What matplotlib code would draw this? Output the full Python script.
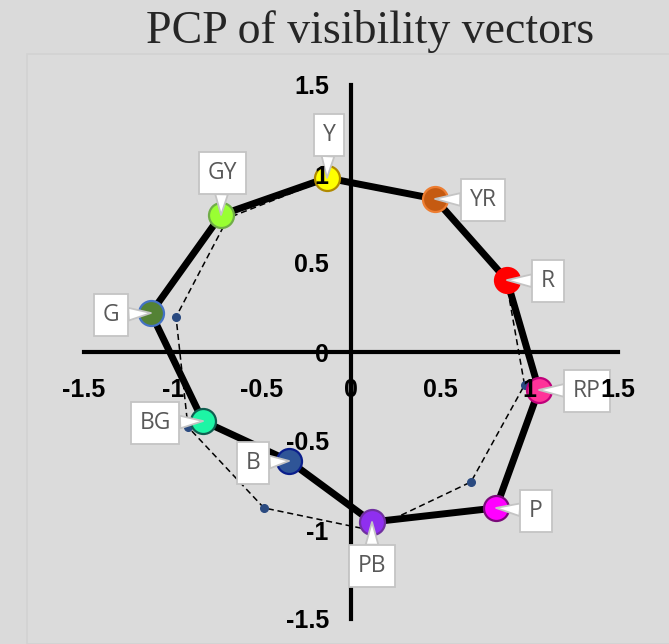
import matplotlib
matplotlib.use("Agg")
import matplotlib.pyplot as plt
from matplotlib.patches import Rectangle

# ---- data ----
hues = ['Y', 'YR', 'R', 'RP', 'P', 'PB', 'B', 'BG', 'G', 'GY']
pcp_x = [-0.135, 0.472, 0.876, 1.056, 0.815, 0.118, -0.348, -0.831, -1.124, -0.730]
pcp_y = [0.978, 0.860, 0.404, -0.213, -0.876, -0.955, -0.612, -0.388, 0.219, 0.770]
ref_x = [-0.146, 0.461, 0.872, 0.975, 0.674, 0.107, -0.489, -0.916, -0.983, -0.691]
ref_y = [0.966, 0.854, 0.398, -0.185, -0.730, -1.000, -0.876, -0.421, 0.197, 0.753]
tick_vals = [-1.5, -1, -0.5, 0, 0.5, 1, 1.5]
tick_labels = ['-1.5', '-1', '-0.5', '0', '0.5', '1', '1.5']

# ---- styles ----
face_colors = ['#FFFF00', '#C55A11', '#FF0000', '#FF3399', '#FF00FF',
               '#8F2FEF', '#2F5597', '#1DF5A5', '#548235', '#99FF33']
edge_colors = ['#B08A00', '#ED7D31', '#FF0000', '#C0007A', '#7A0A7A',
               '#7030A0', '#0A1E8C', '#0F5F50', '#4472C4', '#70AD47']
label_offsets = [(2, 43), (48, -1), (41, -1), (48, -1), (40, -3),
                 (0, -44), (-36, -2), (-48, -2), (-40, -2), (1, 42)]

W, H = 669, 644
fig = plt.figure(figsize=(W / 100, H / 100), dpi=100, facecolor='#DADADA')
# plot-area frame
fig.patches.append(Rectangle((27 / W, 0), 1, (H - 54) / H, transform=fig.transFigure,
                             facecolor='#DBDBDB', edgecolor='#D2D2D2', lw=1.2, zorder=-10))

ax = fig.add_axes([0, 0, 1, 1])
ax.set_zorder(1)
ax.set_facecolor('none')
s = 178.0
ax.set_xlim(-351 / s, (W - 351) / s)
ax.set_ylim(-(H - 352) / s, 352 / s)

for side in ['top', 'right']:
    ax.spines[side].set_visible(False)
for side in ['left', 'bottom']:
    ax.spines[side].set_position(('data', 0))
    ax.spines[side].set_bounds(-1.5, 1.5)
    ax.spines[side].set_linewidth(3)
    ax.spines[side].set_color('black')

ax.set_xticks(tick_vals, tick_labels)
ax.set_yticks(tick_vals, tick_labels)
ax.tick_params(axis='both', length=0, labelsize=18)
ax.tick_params(axis='x', pad=18.5)
ax.tick_params(axis='y', pad=16)
for lab in ax.get_xticklabels() + ax.get_yticklabels():
    lab.set_fontweight('bold')
    lab.set_fontfamily('Liberation Sans')
ax.xaxis.set_zorder(10)
ax.yaxis.set_zorder(10)

# thick closed polygon
ax.plot(pcp_x + pcp_x[:1], pcp_y + pcp_y[:1], color='black', lw=5, zorder=3,
        solid_joinstyle='round')
# dashed reference polygon
ax.plot(ref_x + ref_x[:1], ref_y + ref_y[:1], color='black', lw=1.1, ls=(0, (4, 2.5)),
        zorder=4)
ax.plot(ref_x, ref_y, ls='none', marker='o', ms=5.5, mfc='#2A4A80', mec='#2A4A80', zorder=4)

for i, h in enumerate(hues):
    ax.plot(pcp_x[i], pcp_y[i], ls='none', marker='o', ms=18, mfc=face_colors[i],
            mec=edge_colors[i], mew=1.6, zorder=5)
    ax.annotate(h, xy=(pcp_x[i], pcp_y[i]), xytext=label_offsets[i],
                textcoords='offset pixels', ha='center', va='center',
                fontsize=16.5, family='Open Sans', color='#595959', zorder=6,
                bbox=dict(boxstyle='square,pad=0.38', fc='white', ec='#C4C4C4', lw=1.3),
                arrowprops=dict(arrowstyle='wedge,tail_width=0.55', fc='white',
                                ec='#C4C4C4', lw=1.3, shrinkA=0, shrinkB=0))

fig.text(370 / W, 1 - 43 / H, 'PCP of visibility vectors', ha='center', va='baseline',
         fontsize=33, family='Liberation Serif', color='#262626')

fig.savefig('out.png', dpi=100, facecolor=fig.get_facecolor())
